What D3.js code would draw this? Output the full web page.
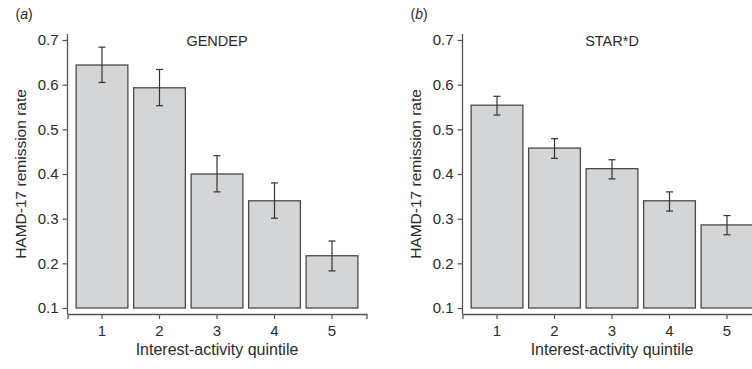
<!DOCTYPE html>
<html>
<head>
<meta charset="utf-8">
<script src="https://cdn.jsdelivr.net/npm/d3@7"></script>
<style>
  body { margin: 0; background: #fff; }
  text { font-family: "Liberation Sans", Arial, sans-serif; fill: #2b2b2b; }
</style>
</head>
<body>
<script>
// quintiles
var quintiles = [1, 2, 3, 4, 5];

// GENDEP remission rates and error bars
var gendepRate = [0.644, 0.593, 0.400, 0.340, 0.217];
var gendepLow  = [0.605, 0.553, 0.360, 0.301, 0.183];
var gendepHigh = [0.684, 0.634, 0.441, 0.380, 0.250];

// STAR*D remission rates and error bars
var stardRate = [0.554, 0.458, 0.412, 0.340, 0.286];
var stardLow  = [0.532, 0.435, 0.389, 0.317, 0.264];
var stardHigh = [0.574, 0.479, 0.432, 0.360, 0.307];

var yTicks = [0.1, 0.2, 0.3, 0.4, 0.5, 0.6, 0.7];

var width = 752, height = 369;

var svg = d3.select("body").append("svg")
    .attr("width", width)
    .attr("height", height);

var y = d3.scaleLinear()
    .domain([0.1, 0.7])
    .range([308, 40]);

function panel(left, letter, title, rate, low, high) {
  var plotW = 299;
  var x = d3.scaleBand()
      .domain(quintiles)
      .range([left, left + plotW])
      .paddingInner(0.1)
      .paddingOuter(0.15);

  var g = svg.append("g");

  var rows = quintiles.map(function(q, i) {
    return {q: q, v: rate[i], lo: low[i], hi: high[i]};
  });

  g.selectAll("rect.bar")
    .data(rows)
    .enter().append("rect")
      .attr("class", "bar")
      .attr("x", function(d) { return x(d.q); })
      .attr("width", x.bandwidth())
      .attr("y", function(d) { return y(d.v); })
      .attr("height", function(d) { return y(0.1) - y(d.v); })
      .attr("fill", "#d4d5d7")
      .attr("stroke", "#4a4a4a")
      .attr("stroke-width", 1.3);

  // error bars
  var eb = g.selectAll("g.err")
    .data(rows)
    .enter().append("g")
      .attr("class", "err")
      .attr("stroke", "#333")
      .attr("stroke-width", 1.2);
  eb.append("line")
      .attr("x1", function(d) { return x(d.q) + x.bandwidth() / 2; })
      .attr("x2", function(d) { return x(d.q) + x.bandwidth() / 2; })
      .attr("y1", function(d) { return y(d.lo); })
      .attr("y2", function(d) { return y(d.hi); });
  eb.append("line")
      .attr("x1", function(d) { return x(d.q) + x.bandwidth() / 2 - 3.5; })
      .attr("x2", function(d) { return x(d.q) + x.bandwidth() / 2 + 3.5; })
      .attr("y1", function(d) { return y(d.hi); })
      .attr("y2", function(d) { return y(d.hi); });
  eb.append("line")
      .attr("x1", function(d) { return x(d.q) + x.bandwidth() / 2 - 3.5; })
      .attr("x2", function(d) { return x(d.q) + x.bandwidth() / 2 + 3.5; })
      .attr("y1", function(d) { return y(d.lo); })
      .attr("y2", function(d) { return y(d.lo); });

  // axes
  var yAxis = d3.axisLeft(y)
      .tickValues(yTicks)
      .tickFormat(d3.format(".1f"))
      .tickSizeOuter(0)
      .tickSize(5)
      .tickPadding(4);
  var ya = g.append("g")
      .attr("transform", "translate(" + left + ",0)")
      .call(yAxis);
  ya.select(".domain").attr("d", "M0,34V314");

  var xAxis = d3.axisBottom(x)
      .tickSizeOuter(0)
      .tickSize(5)
      .tickPadding(6);
  var xa = g.append("g")
      .attr("transform", "translate(0,314)")
      .call(xAxis);

  [ya, xa].forEach(function(a) {
    a.attr("font-size", null).attr("font-family", null);
    a.select(".domain").attr("stroke", "#555").attr("stroke-width", 1.3);
    a.selectAll(".tick line").attr("stroke", "#555").attr("stroke-width", 1.2);
    a.selectAll(".tick text")
      .style("font-size", "15px")
      .attr("fill", "#2b2b2b");
  });

  g.append("text")
      .attr("x", left + plotW / 2)
      .attr("y", 46)
      .attr("text-anchor", "middle")
      .style("font-size", "14.5px")
      .text(title);

  g.append("text")
      .attr("x", left + plotW / 2)
      .attr("y", 355)
      .attr("text-anchor", "middle")
      .style("font-size", "16px")
      .text("Interest-activity quintile");

  g.append("text")
      .attr("transform", "translate(" + (left - 42) + ",174) rotate(-90)")
      .attr("text-anchor", "middle")
      .style("font-size", "15.5px")
      .text("HAMD-17 remission rate");

  var lab = g.append("text")
      .attr("x", left - 52)
      .attr("y", 19)
      .style("font-size", "14px");
  lab.append("tspan").text("(");
  lab.append("tspan").style("font-style", "italic").text(letter);
  lab.append("tspan").text(")");
}

panel(67.5, "a", "GENDEP", gendepRate, gendepLow, gendepHigh);
panel(462.5, "b", "STAR*D", stardRate, stardLow, stardHigh);
</script>
</body>
</html>
